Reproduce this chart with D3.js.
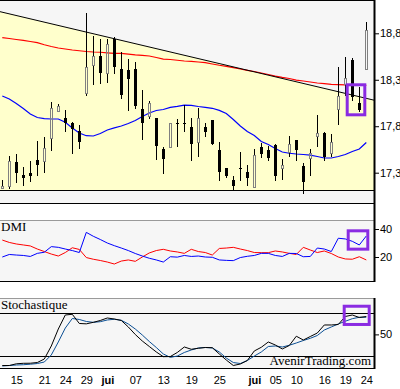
<!DOCTYPE html>
<html lang="fr">
<head>
    <meta charset="UTF-8">
    <title>Graphique</title>
    <style>
        body { margin: 0; background: #fff; }
        svg { display: block; }
    </style>
</head>
<body>
<div id="chart"></div>

<script src="https://cdnjs.cloudflare.com/ajax/libs/d3/7.8.5/d3.min.js"></script>

<script>
    // trading days (dd/mm)
    const dates = ["11/05","14/05","15/05","16/05","17/05","18/05","21/05","22/05","23/05","24/05","25/05",
        "28/05","29/05","30/05","31/05","01/06","04/06","05/06","06/06","07/06","08/06","11/06","12/06",
        "13/06","14/06","15/06","18/06","19/06","20/06","21/06","22/06","25/06","26/06","27/06","28/06",
        "29/06","02/07","03/07","04/07","05/07","06/07","09/07","10/07","11/07","12/07","13/07","16/07",
        "17/07","18/07","19/07","20/07","23/07","24/07"];

    // candles
    const open  = [17.12,17.15,17.41,17.28,17.30,17.44,17.41,17.66,17.95,17.89,17.83,17.75,18.15,18.45,18.56,18.36,
        18.74,18.42,18.40,18.42,17.99,17.90,17.89,17.55,17.57,17.84,17.84,17.79,17.62,17.79,17.87,17.54,17.35,
        17.22,17.35,17.31,17.14,17.58,17.54,17.60,17.34,17.51,17.65,17.37,17.45,17.68,17.73,17.50,17.98,18.24,
        18.51,18.05,18.40];
    const high  = [17.22,17.48,17.50,17.36,17.43,17.64,17.68,18.06,18.04,17.98,17.85,17.81,19.02,18.77,18.74,18.74,
        18.76,18.60,18.52,18.49,18.19,18.07,17.89,17.58,17.84,17.88,18.03,17.89,18.00,17.84,17.87,17.63,17.35,
        17.26,17.52,17.38,17.56,17.62,17.59,17.61,17.45,17.69,17.65,17.40,17.55,17.92,17.74,17.72,18.44,18.55,
        18.53,18.22,18.92];
    const low   = [17.12,17.12,17.20,17.17,17.21,17.28,17.30,17.53,17.95,17.75,17.51,17.57,18.12,18.24,18.27,18.26,
        18.37,18.10,17.98,18.00,17.66,17.88,17.45,17.30,17.57,17.59,17.75,17.44,17.47,17.69,17.61,17.22,17.25,
        17.11,17.22,17.17,17.14,17.47,17.44,17.22,17.22,17.47,17.44,17.08,17.26,17.58,17.44,17.47,17.81,18.12,
        18.08,17.96,18.40];
    const close = [17.16,17.43,17.30,17.24,17.26,17.38,17.57,18.00,18.02,17.83,17.77,17.63,18.44,18.56,18.37,18.68,
        18.44,18.14,18.31,18.02,17.83,18.05,17.59,17.45,17.84,17.84,17.84,17.61,17.89,17.74,17.61,17.31,17.26,
        17.16,17.35,17.24,17.49,17.50,17.46,17.26,17.38,17.61,17.54,17.20,17.51,17.73,17.47,17.63,18.13,18.32,
        18.11,17.97,18.84];

    // moving averages
    const maRed = [18.754,18.744,18.733,18.723,18.712,18.70,18.677,18.658,18.642,18.631,18.62,18.612,18.604,18.599,
        18.596,18.59,18.585,18.583,18.575,18.567,18.563,18.556,18.54,18.523,18.518,18.51,18.502,18.497,18.491,
        18.484,18.47,18.456,18.445,18.43,18.416,18.402,18.389,18.373,18.357,18.34,18.326,18.314,18.297,18.287,
        18.276,18.265,18.258,18.251,18.247,18.244,18.244,18.24,18.24];
    const maBlue = [18.125,18.093,18.045,17.991,17.932,17.894,17.881,17.878,17.878,17.842,17.781,17.727,17.698,
        17.695,17.722,17.759,17.783,17.802,17.829,17.862,17.905,17.942,17.969,17.98,18.002,18.014,18.028,18.025,
        18.012,18.002,17.993,17.971,17.937,17.872,17.802,17.743,17.7,17.636,17.603,17.56,17.523,17.509,17.501,
        17.496,17.49,17.474,17.458,17.458,17.474,17.496,17.528,17.555,17.625];

    // trend line (two anchor points) and horizontal support
    const trendDates = ["11/05", "24/07"];
    const trendPrices = [19.027, 18.10];
    const supportLevel = 17.115;

    // DMI
    const dmiBlue = [20.0,21.8,21.4,21.1,20.4,22.6,23.4,27.4,26.9,25.7,24.6,23.2,37.6,34.8,32.5,30.0,28.1,26.4,24.6,
        22.5,20.7,19.1,17.9,16.4,20.2,19.9,21.1,20.4,20.7,20.0,19.8,17.9,17.6,17.4,19.6,20.5,21.1,22.6,22.6,21.1,
        20.4,22.6,22.5,20.2,20.4,26.4,25.7,23.9,33.4,32.9,31.2,28.6,35.0];
    const dmiRed = [32.1,30.4,29.3,28.6,27.9,25.7,23.9,22.1,20.7,23.2,26.6,25.4,19.6,18.4,17.5,16.4,15.0,17.1,17.9,
        16.9,20.0,22.9,24.6,25.5,24.3,23.6,22.6,25.5,23.9,23.2,21.4,26.1,26.4,26.9,25.7,24.6,23.2,23.1,23.1,24.3,
        23.6,22.6,21.8,26.9,25.0,23.2,24.3,22.5,20.0,18.6,18.4,20.2,17.9];

    // Stochastique
    const stochK = [6.3,6.3,8.7,9.4,9.5,10.5,15.4,33.7,57.5,77.2,78.2,65.3,64.8,66.9,69.5,73.0,71.6,69.5,60.4,49.8,
        40.7,33.0,25.3,18.7,18.9,24.6,32.3,29.1,30.5,31.6,31.3,22.5,14.0,6.3,8.4,13.3,26.7,31.9,39.3,35.1,29.5,
        34.4,47.4,42.1,47.0,51.9,63.2,63.2,63.9,75.1,77.2,73.7,75.1];
    const stochD = [5.6,6.3,7.0,7.4,8.1,9.1,11.2,21.1,39.3,58.9,72.3,70.9,68.1,66.9,67.8,70.2,71.2,69.8,64.6,57.5,
        49.1,40.0,31.6,22.5,17.7,19.6,24.6,28.1,30.9,31.6,30.9,25.3,16.8,10.5,9.1,13.3,19.6,25.3,33.0,33.7,32.3,
        34.7,37.9,41.4,44.5,48.4,56.1,60.4,64.6,68.4,72.0,74.0,74.0];
    const stochLevels = [20, 80];

    // axis ticks
    const priceTicks = [17.3, 17.8, 18.3, 18.8];
    const dmiTicks = [20, 40];
    const stochTicks = [50];
    const tickDates  = ["15/05","21/05","24/05","29/05","01/06","07/06","13/06","19/06","25/06","02/07","05/07","10/07","16/07","19/07","24/07"];
    const tickLabels = ["15","21","24","29","jui","07","13","19","25","jui","05","10","16","19","24"];

    // highlight boxes
    const boxes = [
        {panel: "main",  from: "19/07", to: "24/07", lo: 17.923, hi: 18.246, dx: [1.9, -1.5]},
        {panel: "dmi",   from: "19/07", to: "24/07", lo: 25.6,   hi: 38.7,   dx: [2.9, 1.5]},
        {panel: "stoch", from: "19/07", to: "24/07", lo: 63.9,   hi: 89.5,   dx: [-1.1, 2.9]}
    ];

    //layout
    const W = 400, H = 389;
    const right = 374;
    const panels = {
        main:  {top: 0,     bottom: 204},
        dmi:   {top: 221,   bottom: 282},
        stoch: {top: 298.5, bottom: 369}
    };
    const sansFont = "'Liberation Sans', Arial, sans-serif";
    const serifFont = "'Liberation Serif', 'Times New Roman', serif";

    const svg = d3.select("#chart").append("svg")
        .attr("width", W)
        .attr("height", H);

    const x = d3.scalePoint().domain(dates).range([2.3, 366.3]);
    const yPrice = d3.scaleLinear().domain([17.3, 18.8]).range([172.7, 33.3]);
    const yDmi = d3.scaleLinear().domain([20, 40]).range([257, 229]);
    const yStoch = d3.scaleLinear().domain([0, 100]).range([370, 298.75]);
    const scales = {main: yPrice, dmi: yDmi, stoch: yStoch};

    const defs = svg.append("defs");
    Object.entries(panels).forEach(([name, p]) => {
        defs.append("clipPath").attr("id", "clip-" + name)
            .append("rect")
            .attr("x", 0).attr("y", p.top)
            .attr("width", right).attr("height", p.bottom - p.top);
        svg.append("rect")
            .attr("x", 0).attr("y", p.top)
            .attr("width", right).attr("height", p.bottom - p.top)
            .attr("fill", "#f6f6f6");
    });

    const gMain = svg.append("g").attr("clip-path", "url(#clip-main)");
    const gDmi = svg.append("g").attr("clip-path", "url(#clip-dmi)");
    const gStoch = svg.append("g").attr("clip-path", "url(#clip-stoch)");

    // trend line extended to the panel edges
    const tx0 = x(trendDates[0]), tx1 = x(trendDates[1]);
    const ty0 = yPrice(trendPrices[0]), ty1 = yPrice(trendPrices[1]);
    const slope = (ty1 - ty0) / (tx1 - tx0);
    const trendY = px => ty0 + (px - tx0) * slope;
    const ySupport = yPrice(supportLevel);

    gMain.append("path")
        .attr("d", d3.line()([[0, trendY(0)], [right, trendY(right)], [right, ySupport], [0, ySupport]]) + "Z")
        .attr("fill", "#ffffcc");

    gMain.append("line")
        .attr("x1", 0).attr("x2", right)
        .attr("y1", Math.round(ySupport) + 0.5).attr("y2", Math.round(ySupport) + 0.5)
        .attr("stroke", "#000");

    const lineOf = (scale) => d3.line().x((d, i) => x(dates[i])).y(d => scale(d));

    gMain.append("path").datum(maRed)
        .attr("d", lineOf(yPrice))
        .attr("fill", "none").attr("stroke", "#ff0000").attr("stroke-width", 1.2);
    gMain.append("path").datum(maBlue)
        .attr("d", lineOf(yPrice))
        .attr("fill", "none").attr("stroke", "#0000ff").attr("stroke-width", 1.2);

    gMain.append("line")
        .attr("x1", 0).attr("y1", trendY(0))
        .attr("x2", right).attr("y2", trendY(right))
        .attr("stroke", "#000").attr("stroke-width", 1);

    // candles
    const candles = dates.map((d, i) => ({date: d, o: open[i], h: high[i], l: low[i], c: close[i]}));
    const px = d => Math.round(x(d.date));
    const py = v => Math.round(yPrice(v));

    const cg = gMain.append("g").selectAll("g").data(candles).join("g");

    cg.each(function (d) {
        const g = d3.select(this);
        const cx = px(d);
        const top = py(Math.max(d.o, d.c));
        const bot = py(Math.min(d.o, d.c));
        const up = d.c > d.o;
        if (up) {
            if (py(d.h) < top) {
                g.append("line").attr("x1", cx + 0.5).attr("x2", cx + 0.5)
                    .attr("y1", py(d.h)).attr("y2", top).attr("stroke", "#000");
            }
            if (py(d.l) > bot) {
                g.append("line").attr("x1", cx + 0.5).attr("x2", cx + 0.5)
                    .attr("y1", bot).attr("y2", py(d.l)).attr("stroke", "#000");
            }
            g.append("rect")
                .attr("x", cx - 0.5).attr("y", top + 0.5)
                .attr("width", 2).attr("height", Math.max(1, bot - top - 1))
                .attr("fill", "none").attr("stroke", "#808080");
        } else {
            g.append("line").attr("x1", cx + 0.5).attr("x2", cx + 0.5)
                .attr("y1", py(d.h)).attr("y2", py(d.l) + 1).attr("stroke", "#000");
            g.append("rect")
                .attr("x", cx - 1).attr("y", top)
                .attr("width", 3).attr("height", Math.max(1, bot - top))
                .attr("fill", "#000");
        }
    });

    // DMI lines
    gDmi.append("path").datum(dmiRed)
        .attr("d", lineOf(yDmi))
        .attr("fill", "none").attr("stroke", "#ff0000").attr("stroke-width", 1);
    gDmi.append("path").datum(dmiBlue)
        .attr("d", lineOf(yDmi))
        .attr("fill", "none").attr("stroke", "#0000ff").attr("stroke-width", 1);

    // Stochastique
    stochLevels.forEach(v => {
        const yy = Math.round(yStoch(v)) + 0.5;
        gStoch.append("line")
            .attr("x1", 0).attr("x2", right).attr("y1", yy).attr("y2", yy)
            .attr("stroke", "#000");
    });
    gStoch.append("path").datum(stochD)
        .attr("d", lineOf(yStoch))
        .attr("fill", "none").attr("stroke", "#0b4f94").attr("stroke-width", 1);
    gStoch.append("path").datum(stochK)
        .attr("d", lineOf(yStoch))
        .attr("fill", "none").attr("stroke", "#000").attr("stroke-width", 1);

    // violet highlight boxes
    boxes.forEach(b => {
        const s = scales[b.panel];
        const x0 = x(b.from) + b.dx[0], x1 = x(b.to) + b.dx[1];
        svg.append("rect")
            .attr("x", x0).attr("y", s(b.hi))
            .attr("width", x1 - x0).attr("height", s(b.lo) - s(b.hi))
            .attr("fill", "none").attr("stroke", "#8a2be2").attr("stroke-width", 3);
    });

    // panel borders
    const hline = (yy, color) => svg.append("line")
        .attr("x1", 0).attr("x2", right).attr("y1", yy).attr("y2", yy)
        .attr("stroke", color);
    hline(0.5, "#000");
    hline(203.5, "#000");
    hline(220.5, "#9a9a9a");
    hline(281.5, "#000");
    hline(298.5, "#9a9a9a");
    hline(368.5, "#000");

    svg.append("line").attr("x1", 374.5).attr("x2", 374.5).attr("y1", 0).attr("y2", 282)
        .attr("stroke", "#000").attr("stroke-width", 2);
    svg.append("line").attr("x1", 374.5).attr("x2", 374.5).attr("y1", 298).attr("y2", 369)
        .attr("stroke", "#000").attr("stroke-width", 2);

    // axes
    const fr = d3.formatLocale({decimal: ",", thousands: " ", grouping: [3], currency: ["", " €"]});

    function rightAxis(scale, ticks, fmt) {
        const g = svg.append("g")
            .attr("transform", "translate(375,0)")
            .call(d3.axisRight(scale).tickValues(ticks).tickFormat(fmt).tickSize(4).tickPadding(1).tickSizeOuter(0));
        g.select(".domain").remove();
        g.selectAll("line").attr("stroke", "#000");
        g.selectAll("text").attr("font-family", sansFont).attr("font-size", 11).attr("fill", "#000");
    }
    rightAxis(yPrice, priceTicks, fr.format(".1f"));
    rightAxis(yDmi, dmiTicks, d3.format("d"));
    rightAxis(yStoch, stochTicks, d3.format("d"));

    const xAxis = svg.append("g")
        .attr("transform", "translate(0,369)")
        .call(d3.axisBottom(x).tickValues(tickDates).tickFormat((d, i) => tickLabels[i]).tickSize(0).tickPadding(7));
    xAxis.select(".domain").remove();
    xAxis.selectAll("text")
        .attr("font-family", sansFont).attr("font-size", 11).attr("fill", "#000")
        .attr("font-weight", d => tickLabels[tickDates.indexOf(d)] === "jui" ? "bold" : "normal");

    // panel titles
    svg.append("text").attr("x", 1).attr("y", 231)
        .attr("font-family", serifFont).attr("font-size", 13).text("DMI");
    svg.append("text").attr("x", 1).attr("y", 309)
        .attr("font-family", serifFont).attr("font-size", 13).text("Stochastique");
    svg.append("text").attr("x", 371).attr("y", 365).attr("text-anchor", "end")
        .attr("font-family", serifFont).attr("font-size", 13).text("AvenirTrading.com");
</script>
</body>
</html>
